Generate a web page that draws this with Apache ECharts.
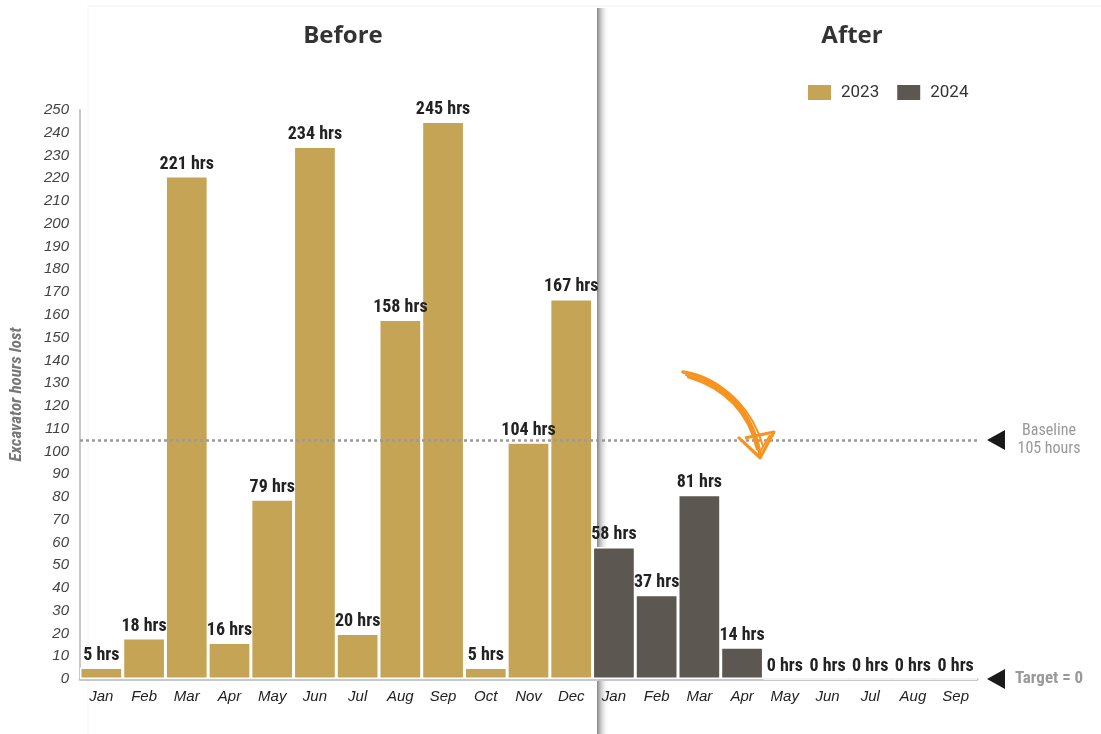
<!DOCTYPE html>
<html><head><meta charset="utf-8">
<script src="https://cdn.jsdelivr.net/npm/echarts@6/dist/echarts.min.js"></script>
<style>html,body{margin:0;padding:0;background:#fff}#c{width:1101px;height:734px}</style>
</head><body><div id="c"></div>
<script>
const categories = ['Jan','Feb','Mar','Apr','May','Jun','Jul','Aug','Sep','Oct','Nov','Dec','Jan','Feb','Mar','Apr','May','Jun','Jul','Aug','Sep'];
const values2023 = [5,18,221,16,79,234,20,158,245,5,104,167];
const values2024 = [58,37,81,14,0,0,0,0,0];
const yTicks = {min:0, max:250, interval:10};
const baseline = 105;
const target = 0;

const s2023 = categories.map((c,i)=> i<values2023.length ? values2023[i] : '-');
const s2024 = categories.map((c,i)=> i>=values2023.length ? values2024[i-values2023.length] : '-');

const narrow = '"Liberation Sans Narrow","Roboto Condensed","Arial Narrow",Roboto,sans-serif';
const sans = '"Liberation Sans",Arial,sans-serif';
const chart = echarts.init(document.getElementById('c'), null, {renderer:'canvas'});
const labelCfg = {show:true, position:'top', distance:3, formatter: p => p.value + ' hrs',
  fontFamily: narrow, fontWeight:'bold', fontSize:18, color:'#222'};
chart.setOption({
  animation:false,
  backgroundColor:'#fff',
  grid:{left:79, right:124, top:110, bottom:55},
  legend:{left:806, top:83, padding:0, itemWidth:25, itemHeight:17, itemGap:16,
    icon:'rect', textStyle:{fontFamily:'Roboto, sans-serif', fontSize:17, color:'#333', padding:[0,0,0,4]},
    data:['2023','2024']},
  xAxis:{type:'category', data:categories, boundaryGap:true,
    axisLine:{lineStyle:{color:'#c8c8c8', width:3}}, axisTick:{show:false},
    axisLabel:{fontFamily:sans, fontStyle:'italic', fontSize:15, color:'#222', margin:10, interval:0}},
  yAxis:{type:'value', min:yTicks.min, max:yTicks.max, interval:yTicks.interval,
    name:'Excavator hours lost', nameLocation:'middle', nameGap:55, nameRotate:90,
    nameTextStyle:{fontFamily:narrow, fontStyle:'italic', fontWeight:'bold', fontSize:17, color:'#777'},
    axisLine:{show:true, lineStyle:{color:'#c8c8c8', width:2}}, axisTick:{show:false}, splitLine:{show:false},
    axisLabel:{fontFamily:sans, fontStyle:'italic', fontSize:15, color:'#444', margin:11}},
  series:[
    {name:'2023', type:'bar', data:s2023, barGap:'-100%', barCategoryGap:'0%',
     itemStyle:{color:'#C5A456', borderColor:'#fff', borderWidth:1.5}, label:labelCfg,
     markLine:{silent:true, symbol:'none', label:{show:false},
       lineStyle:{color:'#9a9a9a', type:[3,3], width:2.5}, data:[{yAxis:baseline}]}},
    {name:'2024', type:'bar', data:s2024, barGap:'-100%', barCategoryGap:'0%',
     itemStyle:{color:'#5C5750', borderColor:'#fff', borderWidth:1.5}, label:labelCfg}
  ]
});
const yB = chart.convertToPixel({yAxisIndex:0}, baseline);
const yT = chart.convertToPixel({yAxisIndex:0}, target);
const tri = (y)=>({type:'polygon', shape:{points:[[987,y],[1005,y-10],[1005,y+10]]}, style:{fill:'#1a1a1a'}, z:10});
const orange = '#F7931E';
const bz = (x1,y1,c1x,c1y,c2x,c2y,x2,y2,w)=>({type:'bezierCurve', z:20,
  shape:{x1:x1,y1:y1,cpx1:c1x,cpy1:c1y,cpx2:c2x,cpy2:c2y,x2:x2,y2:y2},
  style:{stroke:orange, lineWidth:w, fill:'none', lineCap:'round'}});
chart.setOption({graphic:[
  {type:'rect', shape:{x:597,y:8,width:12,height:726}, z:-1,
   style:{fill:{type:'linear',x:0,y:0,x2:1,y2:0,colorStops:[{offset:0,color:'rgba(120,120,120,0.9)'},{offset:1,color:'rgba(255,255,255,0)'}]}}},
  {type:'line', shape:{x1:88,y1:6,x2:1101,y2:6}, z:-1, style:{stroke:'#f0f0f0', lineWidth:1}},
  {type:'line', shape:{x1:88,y1:6,x2:88,y2:734}, z:-1, style:{stroke:'#f4f4f4', lineWidth:1}},
  {type:'text', x:343, y:36, z:10, style:{text:'Before', fontFamily:'"Open Sans", sans-serif', fontWeight:'bold', fontSize:24, fill:'#333', align:'center', verticalAlign:'middle'}},
  {type:'text', x:852, y:36, z:10, style:{text:'After', fontFamily:'"Open Sans", sans-serif', fontWeight:'bold', fontSize:24, fill:'#333', align:'center', verticalAlign:'middle'}},
  tri(yB), tri(yT),
  {type:'text', x:1049, y:yB, z:10, style:{text:'Baseline\n105 hours', fontFamily:narrow, fontSize:16, lineHeight:18, fill:'#999', align:'center', verticalAlign:'middle'}},
  {type:'text', x:1015, y:yT, z:10, style:{text:'Target = 0', fontFamily:narrow, fontWeight:'bold', fontSize:17, fill:'#999', align:'left', verticalAlign:'middle'}},
  bz(683,372, 722,378, 752,410, 760,454, 3.5),
  bz(688,377, 726,388, 749,414, 757,449, 2.5),
  bz(692,374, 730,385, 753,412, 763,446, 2),
  bz(686,375, 724,383, 750,412, 759,452, 2),
  {type:'polyline', z:20, shape:{points:[[738,437],[760,458],[774,432],[745,438]]}, style:{stroke:orange, lineWidth:3, fill:'none', lineJoin:'round'}},
  {type:'polyline', z:20, shape:{points:[[742,440],[758,455],[770,435]]}, style:{stroke:orange, lineWidth:2, fill:'none'}}
]});
</script></body></html>
